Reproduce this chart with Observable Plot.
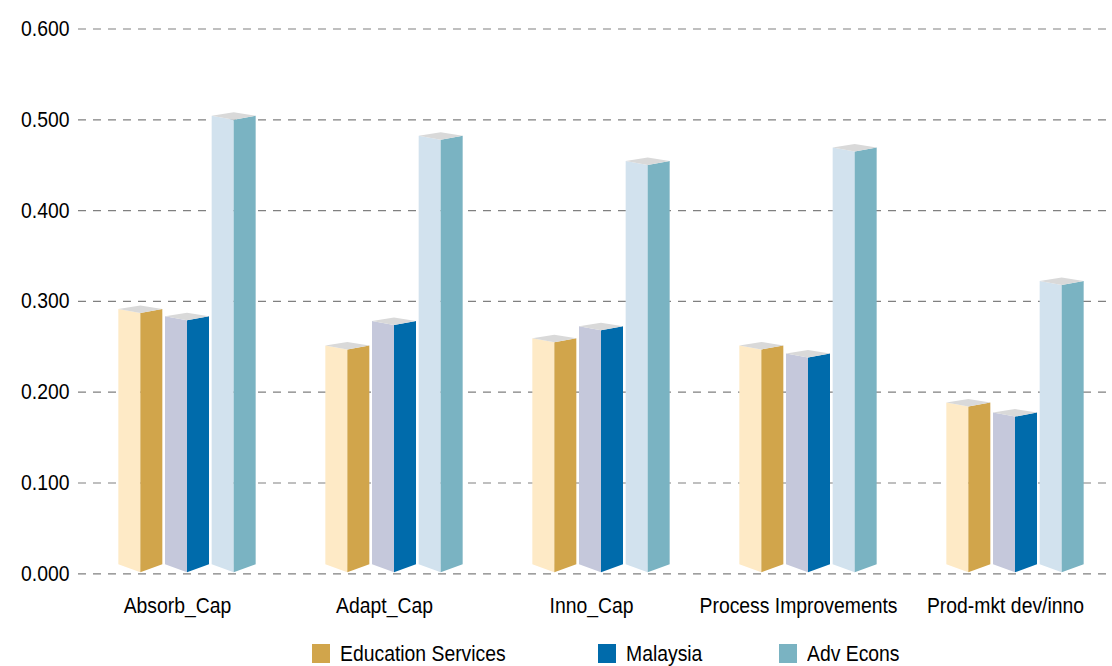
<!DOCTYPE html>
<html><head><meta charset="utf-8">
<script src="https://cdn.jsdelivr.net/npm/d3@7"></script>
<script src="https://cdn.jsdelivr.net/npm/@observablehq/plot@0.6"></script>
<style>
body{margin:0;background:#fff;font-family:"Liberation Sans",Arial,sans-serif;}
#chart{position:relative;width:1112px;height:666px;overflow:hidden;}
.legend{position:absolute;left:0;top:630px;width:1112px;height:36px;}
.item{position:absolute;top:14px;height:19px;}
.sw{position:absolute;left:0;top:0;width:18px;height:19px;}
.lab{position:absolute;left:28px;top:-4px;font-size:22px;line-height:27px;white-space:nowrap;transform:scaleX(0.88);transform-origin:left center;color:#000;}
</style></head><body><div id="chart"></div>
<script>
const categories = ["Absorb_Cap", "Adapt_Cap", "Inno_Cap", "Process Improvements", "Prod-mkt dev/inno"];
const seriesNames = ["Education Services", "Malaysia", "Adv Econs"];
const eduValues = [0.291, 0.251, 0.259, 0.251, 0.188];
const malValues = [0.283, 0.278, 0.272, 0.242, 0.177];
const advValues = [0.504, 0.482, 0.454, 0.469, 0.322];
const tickValues = [0, 0.1, 0.2, 0.3, 0.4, 0.5, 0.6];
const lightColors = ["#FEEAC6", "#C5C8DB", "#D2E2EE"];
const darkColors = ["#D1A54B", "#006BAB", "#7AB3C2"];
const capColor = "#D9D9D9";

const seriesValues = [eduValues, malValues, advValues];
const data = [];
categories.forEach((c, ci) => seriesNames.forEach((s, si) => data.push({category: c, series: s, value: seriesValues[si][ci]})));

const inner = d3.scaleBand().domain(seriesNames).range([-70, 70]);
const half = 22;

function prisms(index, scales, values) {
  const y0 = scales.y(0);
  const g = d3.create("svg:g");
  for (const i of index) {
    const d = data[i];
    const si = seriesNames.indexOf(d.series);
    const cx = values.x[i] + inner(d.series) + inner.bandwidth() / 2;
    const yv = values.y[i];
    const L = cx - half, R = cx + half;
    const faces = [
      [[[L, yv], [cx, yv + 4], [cx, y0 - 1], [L, y0 - 9]], lightColors[si]],
      [[[cx, yv + 4], [R, yv], [R, y0 - 9], [cx, y0 - 1]], darkColors[si]],
      [[[L, yv], [cx, yv - 3.5], [R, yv], [cx, yv + 4]], capColor]
    ];
    for (const [pts, fill] of faces) {
      g.append("polygon").attr("points", pts.map(p => p.join(",")).join(" ")).attr("fill", fill);
    }
  }
  return g.node();
}

const chart = Plot.plot({
  width: 1112,
  height: 630,
  marginTop: 28.5,
  marginBottom: 56.7,
  marginLeft: 78,
  marginRight: 0,
  style: {fontFamily: "Liberation Sans, Arial, sans-serif", color: "#000", background: "#fff", overflow: "visible"},
  x: {type: "point", domain: categories, range: [184.9, 1016.8], padding: 0, label: null},
  y: {domain: [0, 0.6], range: [573.3, 28.5], label: null},
  marks: [
    Plot.ruleY(tickValues, {stroke: "#808080", strokeWidth: 1.2, strokeDasharray: "8,7"}),
    Plot.dot(data, {x: "category", y: "value", render: prisms}),
    Plot.axisY(tickValues, {tickSize: 0, tickPadding: 9, tickFormat: d3.format(".3f"), fontSize: 22, label: null}),
    Plot.axisX({tickSize: 0, tickPadding: 24, dx: -10, fontSize: 22, label: null})
  ]
});
const root = document.getElementById("chart");
root.appendChild(chart);
chart.querySelectorAll("text").forEach(t => {
  const len = t.getComputedTextLength();
  if (len > 0) { t.setAttribute("textLength", len * 0.88); t.setAttribute("lengthAdjust", "spacingAndGlyphs"); }
});

const legendX = [312, 598, 779];
const legend = document.createElement("div");
legend.className = "legend";
seriesNames.forEach((s, i) => {
  const item = document.createElement("div");
  item.className = "item";
  item.style.left = legendX[i] + "px";
  const sw = document.createElement("div");
  sw.className = "sw"; sw.style.background = darkColors[i];
  const lab = document.createElement("div");
  lab.className = "lab"; lab.textContent = s;
  item.appendChild(sw); item.appendChild(lab);
  legend.appendChild(item);
});
root.appendChild(legend);
</script></body></html>
